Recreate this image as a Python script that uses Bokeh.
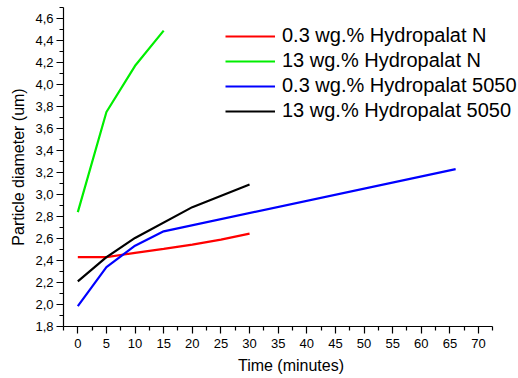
from bokeh.plotting import figure
from bokeh.models import Range1d, Legend, LegendItem, FixedTicker
from bokeh.embed import file_html
from bokeh.resources import INLINE

# ---- data ----
series_names = ["0.3 wg.% Hydropalat N", "13 wg.% Hydropalat N",
                "0.3 wg.% Hydropalat 5050", "13 wg.% Hydropalat 5050"]
series_colors = ["#ff0000", "#00ee00", "#0000ff", "#000000"]

red_x = [0, 5, 10, 15, 20, 25, 30]
red_y = [2.43, 2.43, 2.47, 2.505, 2.545, 2.59, 2.645]

green_x = [0, 5, 10, 15]
green_y = [2.84, 3.75, 4.17, 4.49]

blue_x = [0, 5, 10, 15, 66]
blue_y = [1.985, 2.34, 2.535, 2.665, 3.23]

black_x = [0, 5, 10, 20, 30]
black_y = [2.21, 2.43, 2.605, 2.885, 3.09]

x_ticks = [0, 5, 10, 15, 20, 25, 30, 35, 40, 45, 50, 55, 60, 65, 70]
y_ticks = [1.8, 2.0, 2.2, 2.4, 2.6, 2.8, 3.0, 3.2, 3.4, 3.6, 3.8, 4.0, 4.2, 4.4, 4.6]
y_tick_labels = ["1,8", "2,0", "2,2", "2,4", "2,6", "2,8", "3,0", "3,2", "3,4",
                 "3,6", "3,8", "4,0", "4,2", "4,4", "4,6"]

FONT = "Liberation Sans"

p = figure(width=518, height=378, output_backend="svg", toolbar_location=None,
           x_range=Range1d(-2.5, 76.98), y_range=Range1d(1.8, 4.7),
           min_border_left=63, min_border_right=0, min_border_top=7,
           min_border_bottom=52)
p.outline_line_color = None
p.xgrid.visible = False
p.ygrid.visible = False
p.background_fill_color = "white"
p.border_fill_color = "white"

renderers = []
for xs, ys, c in [(red_x, red_y, series_colors[0]), (green_x, green_y, series_colors[1]),
                  (blue_x, blue_y, series_colors[2]), (black_x, black_y, series_colors[3])]:
    r = p.line(xs, ys, line_color=c, line_width=2.2)
    renderers.append(r)

# axes
xa = p.xaxis[0]
ya = p.yaxis[0]
xa.bounds = (-2.5, 72.5)
xa.ticker = FixedTicker(ticks=x_ticks, minor_ticks=[x + 2.5 for x in [-5] + x_ticks])
ya.ticker = FixedTicker(ticks=y_ticks, minor_ticks=[round(y + 0.1, 2) for y in y_ticks])
ya.major_label_overrides = {t: l for t, l in zip(y_ticks, y_tick_labels)}
for ax in (xa, ya):
    ax.axis_line_color = "black"
    ax.axis_line_width = 1.2
    ax.major_tick_line_color = "black"
    ax.minor_tick_line_color = "black"
    ax.major_tick_line_width = 1.2
    ax.minor_tick_line_width = 1.2
    ax.major_tick_in = 0
    ax.minor_tick_in = 0
    ax.major_tick_out = 7
    ax.minor_tick_out = 4
    ax.major_label_text_font = FONT
    ax.major_label_text_font_size = "13px"
    ax.major_label_text_color = "black"
    ax.axis_label_text_font = FONT
    ax.axis_label_text_font_size = "16px"
    ax.axis_label_text_font_style = "normal"
    ax.axis_label_text_color = "black"

ya.major_label_standoff = 3
xa.major_label_standoff = 5
xa.axis_label = "Time (minutes)"
ya.axis_label = "Particle diameter (um)"
xa.axis_label_standoff = 6
ya.axis_label_standoff = 5

legend = Legend(items=[LegendItem(label=n, renderers=[r]) for n, r in zip(series_names, renderers)],
                location=(162, 204))
legend.border_line_color = None
legend.background_fill_alpha = 0
legend.padding = 0
legend.margin = 0
legend.spacing = 2
legend.glyph_width = 50
legend.glyph_height = 20
legend.label_height = 20
legend.label_standoff = 7
legend.label_text_font = FONT
legend.label_text_font_size = "20px"
legend.label_text_color = "black"
p.add_layout(legend, "center")

open("out.html", "w").write(file_html(p, INLINE))
